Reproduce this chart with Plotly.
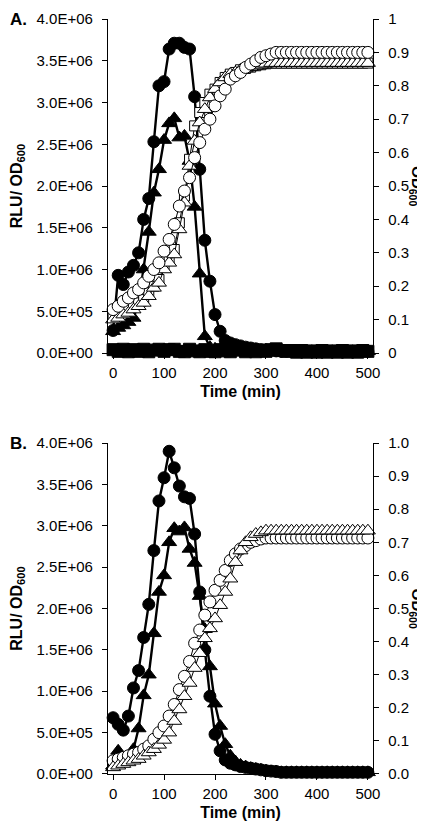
import plotly.graph_objects as go

# ---------------- data ----------------
time_min = list(range(0, 510, 10))  # 0..500 min

# Panel A, RLU/OD600 (x1e6)
a_rlu_circle = [0.27, 0.93, 0.82, 0.97, 1.05, 1.2, 1.6, 1.85, 2.53, 3.2, 3.25, 3.64, 3.71, 3.71, 3.66, 3.64,
                3.07, 2.2, 1.35, 0.86, 0.46, 0.26, 0.15, 0.12, 0.10, 0.085, 0.07, 0.06, 0.05, 0.04, 0.035,
                0.03, 0.025, 0.02, 0.02, 0.02, 0.02, 0.02, 0.02, 0.02, 0.02, 0.02, 0.02, 0.02, 0.02, 0.02,
                0.02, 0.02, 0.02, 0.02, 0.02]
a_rlu_triangle = [0.26, 0.3, 0.33, 0.37, 0.42, 0.6, 1.0, 1.45, 1.92, 2.2, 2.55, 2.75, 2.81, 2.58, 2.6, 2.3,
                  1.75, 0.95, 0.2, 0.07, 0.05, 0.04, 0.035, 0.03, 0.03, 0.025, 0.025, 0.02, 0.02, 0.02, 0.02,
                  0.02, 0.02, 0.02, 0.02, 0.02, 0.02, 0.02, 0.02, 0.02, 0.02, 0.02, 0.02, 0.02, 0.02, 0.02,
                  0.02, 0.02, 0.02, 0.02, 0.02]
a_rlu_square = [0.04, 0.02, 0.045, 0.015, 0.04, 0.02, 0.045, 0.015, 0.035, 0.045, 0.02, 0.04, 0.045, 0.02,
                0.015, 0.045, 0.025, 0.015, 0.04, 0.02, 0.015, 0.04, 0.025, 0.015, 0.035, 0.04, 0.015, 0.03,
                0.015, 0.035, 0.02, 0.04, 0.05, 0.03, 0.02, 0.03, 0.01, 0.03, 0.01, 0.025, 0.01, 0.03,
                0.01, 0.025, 0.01, 0.03, 0.01, 0.025, 0.01, 0.03, 0.02]
# Panel A, OD600
a_od_circle = [0.13, 0.14, 0.155, 0.165, 0.18, 0.19, 0.21, 0.23, 0.25, 0.27, 0.305, 0.34, 0.385, 0.44, 0.485,
               0.525, 0.585, 0.63, 0.67, 0.70, 0.74, 0.77, 0.79, 0.82, 0.83, 0.84, 0.855, 0.865, 0.875, 0.885,
               0.89, 0.895, 0.9, 0.9, 0.9, 0.9, 0.9, 0.9, 0.9, 0.9, 0.9, 0.9, 0.9, 0.9, 0.9, 0.9, 0.9, 0.9,
               0.9, 0.9, 0.9]
a_od_triangle = [0.10, 0.105, 0.115, 0.12, 0.13, 0.14, 0.15, 0.17, 0.195, 0.21, 0.25, 0.27, 0.295, 0.37, 0.45,
                 0.56, 0.635, 0.69, 0.73, 0.765, 0.79, 0.81, 0.825, 0.835, 0.84, 0.848, 0.852, 0.856, 0.86,
                 0.863, 0.866, 0.868, 0.868, 0.868, 0.868, 0.868, 0.868, 0.868, 0.868, 0.868, 0.868, 0.868,
                 0.868, 0.868, 0.868, 0.868, 0.868, 0.868, 0.868, 0.868, 0.868]
a_od_square = [0.11, 0.115, 0.125, 0.13, 0.14, 0.15, 0.16, 0.18, 0.2, 0.22, 0.26, 0.28, 0.31, 0.39, 0.47,
               0.58, 0.68, 0.72, 0.75, 0.775, 0.79, 0.81, 0.825, 0.835, 0.84, 0.848, 0.852, 0.856, 0.86,
               0.863, 0.866, 0.868, 0.868, 0.868, 0.868, 0.868, 0.868, 0.868, 0.868, 0.868, 0.868, 0.868,
               0.868, 0.868, 0.868, 0.868, 0.868, 0.868, 0.868, 0.868, 0.868]

# Panel B, RLU/OD600 (x1e6)
b_rlu_circle = [0.68, 0.6, 0.53, 0.7, 1.04, 1.25, 1.65, 2.05, 2.7, 3.3, 3.58, 3.9, 3.7, 3.48, 3.35, 3.33,
                2.9, 2.2, 1.5, 0.94, 0.48, 0.28, 0.17, 0.13, 0.11, 0.09, 0.08, 0.07, 0.06, 0.05, 0.04,
                0.035, 0.03, 0.02, 0.02, 0.02, 0.02, 0.02, 0.02, 0.02, 0.02, 0.02, 0.02, 0.02, 0.02, 0.02,
                0.02, 0.02, 0.02, 0.02, 0.02]
b_rlu_triangle = [0.1, 0.28, 0.17, 0.17, 0.3, 0.55, 0.95, 1.2, 1.7, 2.2, 2.4, 2.8, 2.97, 2.93, 2.98, 2.72,
                  2.55, 2.15, 1.75, 1.3, 0.85, 0.58, 0.36, 0.22, 0.15, 0.11, 0.09, 0.07, 0.06, 0.05, 0.04,
                  0.03, 0.03, 0.02, 0.02, 0.02, 0.02, 0.02, 0.02, 0.02, 0.02, 0.02, 0.02, 0.02, 0.02, 0.02,
                  0.02, 0.02, 0.02, 0.02, 0.02]
# Panel B, OD600
b_od_circle = [0.04, 0.045, 0.05, 0.055, 0.06, 0.065, 0.075, 0.085, 0.105, 0.125, 0.145, 0.175, 0.21, 0.255,
               0.295, 0.34, 0.395, 0.435, 0.48, 0.52, 0.555, 0.585, 0.615, 0.645, 0.665, 0.68, 0.69, 0.70,
               0.705, 0.71, 0.713, 0.713, 0.713, 0.713, 0.713, 0.713, 0.713, 0.713, 0.713, 0.713, 0.713,
               0.713, 0.713, 0.713, 0.713, 0.713, 0.713, 0.713, 0.713, 0.713, 0.713]
b_od_triangle = [0.02, 0.025, 0.03, 0.035, 0.04, 0.045, 0.055, 0.065, 0.075, 0.088, 0.103, 0.125, 0.16, 0.195,
                 0.235, 0.275, 0.32, 0.365, 0.41, 0.44, 0.47, 0.51, 0.55, 0.59, 0.64, 0.675, 0.70, 0.715,
                 0.725, 0.73, 0.735, 0.735, 0.735, 0.735, 0.735, 0.735, 0.735, 0.735, 0.735, 0.735, 0.735,
                 0.735, 0.735, 0.735, 0.735, 0.735, 0.735, 0.735, 0.735, 0.735, 0.735]

x_ticks = [0, 100, 200, 300, 400, 500]
rlu_tickvals = [0, 0.5e6, 1.0e6, 1.5e6, 2.0e6, 2.5e6, 3.0e6, 3.5e6, 4.0e6]
rlu_ticktext = ["0.0E+00", "5.0E+05", "1.0E+06", "1.5E+06", "2.0E+06", "2.5E+06", "3.0E+06", "3.5E+06", "4.0E+06"]
od_tickvals = [i / 10 for i in range(11)]
od_ticktext_a = ["0", "0.1", "0.2", "0.3", "0.4", "0.5", "0.6", "0.7", "0.8", "0.9", "1"]
od_ticktext_b = ["0.0", "0.1", "0.2", "0.3", "0.4", "0.5", "0.6", "0.7", "0.8", "0.9", "1.0"]

# ---------------- figure ----------------
FONT = "Liberation Sans, Arial, sans-serif"
fig = go.Figure()


def scale(vals):
    return [v * 1e6 for v in vals]


def add(x, y, xa, ya, symbol, filled, size=12, lw=2.4, line=True):
    fig.add_trace(go.Scatter(
        x=x, y=y, xaxis=xa, yaxis=ya,
        mode="lines+markers" if line else "markers",
        line=dict(color="black", width=lw),
        marker=dict(symbol=symbol, size=size,
                    color="black" if filled else "white",
                    line=dict(color="black", width=1)),
        cliponaxis=False, showlegend=False, hoverinfo="x+y"))


# Panel A
add(time_min, scale(a_rlu_square), "x", "y", "square", True, size=12, lw=1.5)
add(time_min, scale(a_rlu_triangle), "x", "y", "triangle-up", True, size=13)
add(time_min, scale(a_rlu_circle), "x", "y", "circle", True)
add(time_min, a_od_square, "x", "y2", "square", False, size=10, lw=1)
add(time_min, a_od_triangle, "x", "y2", "triangle-up", False, size=13, lw=1)
add(time_min, a_od_circle, "x", "y2", "circle", False, lw=1)
# Panel B
add(time_min, scale(b_rlu_triangle), "x2", "y3", "triangle-up", True, size=13)
add(time_min, scale(b_rlu_circle), "x2", "y3", "circle", True)
add(time_min, b_od_circle, "x2", "y4", "circle", False, lw=1)
add(time_min, b_od_triangle, "x2", "y4", "triangle-up", False, size=13, lw=1)

base_axis = dict(showline=True, linecolor="black", linewidth=1.3, ticks="outside", ticklen=5,
                 tickcolor="black", tickwidth=1.3, showgrid=False, zeroline=False, automargin=False,
                 tickfont=dict(family=FONT, size=15, color="black"))
x_axis = dict(base_axis, ticklabelstandoff=1)
y_axis = dict(base_axis, ticklabelstandoff=6)

dom_a = [0.5576, 1.0]
dom_b = [0.0, 0.4384]

xtitle = dict(text="<b>Time (min)</b>", font=dict(family=FONT, size=16, color="black"), standoff=5)
ytitle = dict(text="<b>RLU/ OD<sub>600</sub></b>", font=dict(family=FONT, size=16, color="black"), standoff=15)

fig.update_layout(
    width=425, height=823,
    margin=dict(l=100, r=60, t=11, b=57, autoexpand=False),
    paper_bgcolor="white", plot_bgcolor="white",
    font=dict(family=FONT, size=15, color="black"),
    xaxis=dict(domain=[0, 1], anchor="y", range=[-10, 510], tickvals=x_ticks, title=xtitle, **x_axis),
    yaxis=dict(domain=dom_a, anchor="x", range=[0, 4e6], tickvals=rlu_tickvals, ticktext=rlu_ticktext,
               title=ytitle, **y_axis),
    yaxis2=dict(overlaying="y", side="right", anchor="x", range=[0, 1], tickvals=od_tickvals,
                ticktext=od_ticktext_a, **y_axis),
    xaxis2=dict(domain=[0, 1], anchor="y3", range=[-10, 510], tickvals=x_ticks, title=xtitle, **x_axis),
    yaxis3=dict(domain=dom_b, anchor="x2", range=[0, 4e6], tickvals=rlu_tickvals, ticktext=rlu_ticktext,
                title=ytitle, **y_axis),
    yaxis4=dict(overlaying="y3", side="right", anchor="x2", range=[0, 1], tickvals=od_tickvals,
                ticktext=od_ticktext_b, **y_axis),
)

ann_font = dict(family=FONT, size=15, color="black")
for ymid in [(dom_a[0] + dom_a[1]) / 2, (dom_b[0] + dom_b[1]) / 2]:
    fig.add_annotation(text="<b>OD<sub>600</sub></b>", xref="paper", yref="paper", x=1.165, y=ymid,
                       textangle=90, showarrow=False, font=ann_font, xanchor="center", yanchor="middle")

fig.add_annotation(text="<b>A.</b>", xref="paper", yref="paper", x=-0.377, y=dom_a[1], showarrow=False,
                   font=dict(family=FONT, size=17, color="black"), xanchor="left", yanchor="middle")
fig.add_annotation(text="<b>B.</b>", xref="paper", yref="paper", x=-0.377, y=dom_b[1], showarrow=False,
                   font=dict(family=FONT, size=17, color="black"), xanchor="left", yanchor="middle")

fig.write_html("out.html")
